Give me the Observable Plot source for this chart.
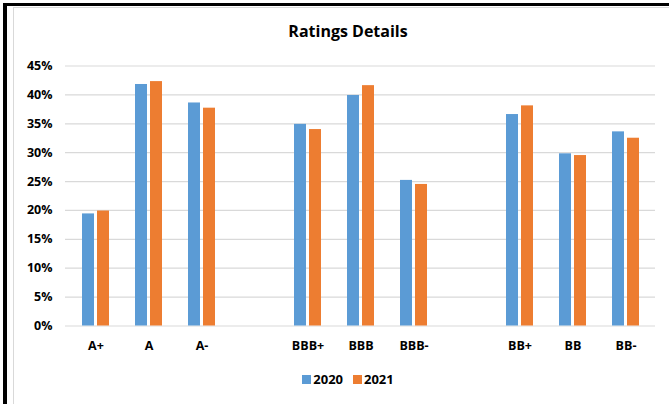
<!DOCTYPE html>
<html>
<head>
<meta charset="utf-8">
<script src="https://cdn.jsdelivr.net/npm/d3@7"></script>
<script src="https://cdn.jsdelivr.net/npm/@observablehq/plot@0.6"></script>
<style>
  html, body { margin: 0; padding: 0; background: #fff; width: 669px; height: 404px; overflow: hidden; }
  body { position: relative; font-family: "Open Sans", sans-serif; color: #000; }
  #frame { position: absolute; left: 3px; top: 3px; width: 700px; height: 440px; box-sizing: border-box;
           border-top: 3px solid #000; border-left: 4px solid #000; }
  #area { position: absolute; left: 13px; top: 7px; width: 700px; height: 440px; box-sizing: border-box;
          border: 1px solid #d9d9d9; }
  #title { position: absolute; left: 13px; width: 670px; top: 21px; text-align: center;
           font-weight: 700; font-size: 16px; line-height: 20px; }
  #chart { position: absolute; left: 0; top: 40px; }
  #legend { position: absolute; left: 13px; width: 670px; top: 371px; text-align: center;
            font-weight: 700; font-size: 13px; line-height: 16px; }
  #legend .item { display: inline-block; margin: 0 5px; }
  #legend .swatch { display: inline-block; width: 9px; height: 9px; margin-right: 2px; vertical-align: baseline; }
</style>
</head>
<body>
<div id="frame"></div>
<div id="area"></div>
<div id="title">Ratings Details</div>
<div id="chart"></div>
<div id="legend"></div>
<script>
// Rating buckets, with two empty slots separating the A, BBB and BB groups
const categories = ["A+", "A", "A-", "BBB+", "BBB", "BBB-", "BB+", "BB", "BB-"];
const slots = ["A+", "A", "A-", " ", "BBB+", "BBB", "BBB-", "  ", "BB+", "BB", "BB-"];

// Share of ratings per bucket, in percent
const values2020 = [19.4, 41.8, 38.6, 34.9, 39.9, 25.2, 36.6, 29.8, 33.6];
const values2021 = [19.9, 42.3, 37.7, 34.0, 41.6, 24.5, 38.1, 29.5, 32.5];

const years = ["2020", "2021"];
const colors = ["#5B9BD5", "#ED7D31"];
const yTicks = [0, 5, 10, 15, 20, 25, 30, 35, 40, 45];

const rows2020 = categories.map((c, i) => ({category: c, year: "2020", value: values2020[i]}));
const rows2021 = categories.map((c, i) => ({category: c, year: "2021", value: values2021[i]}));

const chart = Plot.plot({
  width: 669,
  height: 326,
  marginTop: 25.5,
  marginBottom: 40.5,
  marginLeft: 65,
  marginRight: 14,
  style: {fontFamily: "'Open Sans', sans-serif", fontSize: "12.5px", fontWeight: "bold", color: "#000", background: "transparent", overflow: "visible"},
  x: {domain: slots, paddingInner: 0.4966, paddingOuter: 0.2483, label: null},
  y: {domain: [0, 45], label: null},
  color: {domain: years, range: colors},
  marks: [
    Plot.gridY(yTicks, {stroke: "#d9d9d9", strokeOpacity: 1, strokeWidth: 1.2}),
    Plot.barY(rows2020, {x: "category", y: "value", fill: "year", insetRight: 15}),
    Plot.barY(rows2021, {x: "category", y: "value", fill: "year", insetLeft: 15}),
    Plot.axisY({ticks: yTicks, tickSize: 0, tickPadding: 13, tickFormat: d => d + "%", label: null}),
    Plot.axisX({tickSize: 0, tickPadding: 15, label: null})
  ]
});
document.getElementById("chart").appendChild(chart);

// Legend below the plot
const legend = d3.select("#legend");
years.forEach((y, i) => {
  const item = legend.append("span").attr("class", "item");
  item.append("span").attr("class", "swatch").style("background", colors[i]);
  item.append("span").text(y);
});
</script>
</body>
</html>
